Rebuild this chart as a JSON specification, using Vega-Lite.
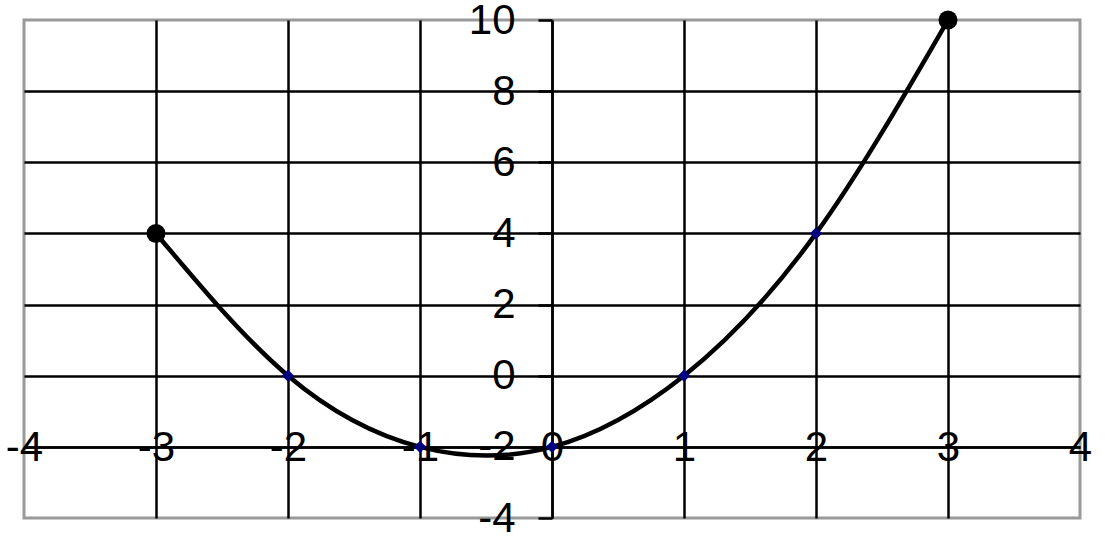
{
  "$schema": "https://vega.github.io/schema/vega-lite/v6.json",
  "width": 1056,
  "height": 498,
  "autosize": {"type": "none"},
  "padding": {"left": 24, "top": 20, "right": 28, "bottom": 36},
  "background": "white",
  "config": {
    "view": {"stroke": "#999999", "strokeWidth": 3},
    "axis": {"labelFont": "Liberation Sans", "labelFontSize": 42, "labelColor": "black", "labelFlush": false, "labelOverlap": false, "title": null, "labelExpr": "toString(datum.value)"}
  },
  "data": {"values": [
    {"x": -3, "y": 4},
    {"x": -2, "y": 0},
    {"x": -1, "y": -2},
    {"x": 0, "y": -2},
    {"x": 1, "y": 0},
    {"x": 2, "y": 4},
    {"x": 3, "y": 10}
  ]},
  "encoding": {
    "x": {"field": "x", "type": "quantitative",
      "scale": {"domain": [-4, 4], "nice": false, "zero": false},
      "axis": {"orient": "bottom", "offset": -71, "values": [-4, -3, -2, -1, 0, 1, 2, 3, 4],
        "grid": true, "gridColor": "black", "gridWidth": 2.5,
        "gridOpacity": {"condition": {"test": "abs(datum.value) == 4", "value": 0}, "value": 1},
        "domain": true, "domainColor": "black", "domainWidth": 2.5,
        "ticks": false, "labelPadding": 0, "labelBaseline": "middle", "labelAlign": "center"}},
    "y": {"field": "y", "type": "quantitative",
      "scale": {"domain": [-4, 10], "nice": false, "zero": false},
      "axis": {"orient": "left", "offset": -528, "values": [-4, -2, 0, 2, 4, 6, 8, 10],
        "grid": true, "gridColor": "black", "gridWidth": 2.5,
        "gridOpacity": {"condition": {"test": "datum.value == -4 || datum.value == 10", "value": 0}, "value": 1},
        "domain": true, "domainColor": "black", "domainWidth": 2.5,
        "ticks": true, "tickSize": 14, "tickColor": "black", "tickWidth": 2.5,
        "labelPadding": 23, "labelBaseline": "middle", "labelAlign": "right"}}
  },
  "layer": [
    {"mark": {"type": "line", "interpolate": "natural", "color": "black", "strokeWidth": 4.5}},
    {"transform": [{"filter": "abs(datum.x) < 3"}],
      "mark": {"type": "point", "shape": "diamond", "filled": true, "color": "#000080", "size": 150, "opacity": 1}},
    {"transform": [{"filter": "abs(datum.x) == 3"}],
      "mark": {"type": "circle", "color": "black", "size": 360, "opacity": 1}}
  ]
}
